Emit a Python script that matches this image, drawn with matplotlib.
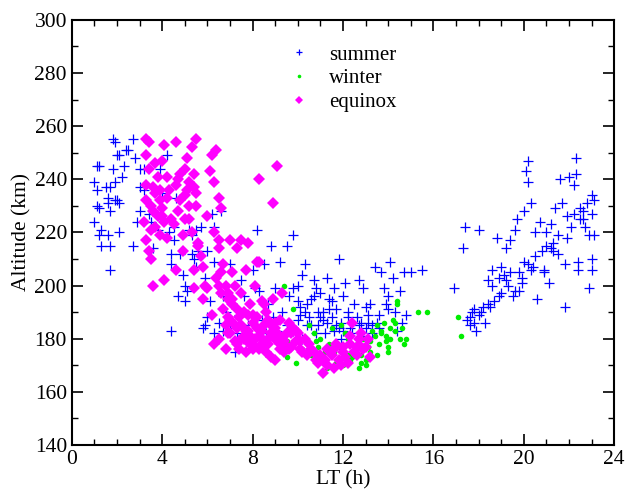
import matplotlib
matplotlib.use("Agg")
import matplotlib.pyplot as plt
from matplotlib.ticker import MultipleLocator

plt.rcParams['font.family'] = ['Liberation Serif', 'DejaVu Serif']

# summer (LT, altitude)
summer_lt = [1.0, 1.1, 1.1, 1.2, 1.0, 1.1, 1.2, 1.2, 1.3, 1.3, 1.5, 1.6, 1.6, 1.7, 1.7, 1.6, 1.7, 1.7,
             1.8, 1.8, 1.9, 1.9, 1.9, 2.0, 2.0, 2.1, 2.1, 2.1, 2.2, 2.3, 2.4, 2.5, 2.7, 2.7, 2.8, 2.9,
             3.0, 3.0, 3.0, 3.2, 3.2, 3.4, 3.5, 3.6, 3.8, 3.9, 3.9, 4.0, 4.2, 4.3, 4.4, 4.4, 4.4, 4.5,
             4.5, 4.6, 4.7, 4.8, 4.9, 5.0, 5.0, 5.1, 5.2, 5.3, 5.3, 5.4, 5.5, 5.5, 5.6, 5.7, 5.8, 5.9,
             5.9, 6.0, 6.0, 6.1, 6.2, 6.3, 6.3, 6.5, 6.6, 6.7, 6.8, 7.0, 7.1, 7.2, 7.3, 7.4, 7.5, 7.6,
             7.8, 8.0, 8.2, 8.3, 8.5, 8.7, 8.8, 9.0, 9.2, 9.3, 9.5, 9.6, 9.8, 9.8, 10.0, 10.1, 10.2,
             10.3, 10.3, 10.5, 10.6, 10.7, 10.8, 10.9, 11.0, 11.1, 11.2, 11.3, 11.3, 11.5, 11.6, 11.7,
             11.8, 11.8, 11.9, 12.0, 12.1, 12.2, 12.3, 12.5, 12.6, 12.7, 12.9, 13.0, 13.1, 13.2, 13.3,
             13.4, 13.6, 13.7, 13.8, 13.9, 14.0, 14.1, 14.2, 14.3, 14.5, 14.6, 14.7, 14.8, 15.0, 15.5,
             16.9, 17.3, 17.4, 17.5, 17.6, 17.7, 17.8, 17.9, 18.0, 18.0, 18.2, 18.3, 18.4, 18.5, 18.6,
             18.7, 18.8, 18.9, 19.0, 19.2, 19.3, 19.4, 19.5, 19.6, 19.7, 19.8, 19.9, 20.0, 20.0, 20.1,
             20.2, 20.2, 20.3, 20.4, 20.5, 20.6, 20.7, 20.8, 20.9, 21.0, 21.1, 21.2, 21.3, 21.4, 21.5,
             21.6, 21.7, 21.8, 21.8, 21.9, 22.0, 22.1, 22.2, 22.3, 22.3, 22.4, 22.4, 22.5, 22.6, 22.7,
             22.8, 22.9, 23.0, 23.0, 23.0, 23.0, 22.9, 23.1, 23.1,
             9.5, 9.8, 10.0, 10.4, 10.8, 11.0, 11.4, 11.7, 12.0, 12.4, 12.8, 13.0, 13.5, 6.3, 6.7, 7.0,
             7.7, 8.1, 8.4, 8.6, 8.9, 9.1, 9.4, 10.2, 10.6, 11.9, 12.9, 13.3,
             17.6, 17.8, 18.1, 18.4, 18.9, 19.1, 19.4, 19.6, 19.9, 20.2, 20.5, 20.9, 21.2, 21.5, 21.9,
             22.2, 22.6, 19.2, 19.8, 20.3, 21.0, 21.3, 22.5, 18.6, 19.0,
             10.1, 10.4, 10.9, 11.1, 11.4, 11.6, 12.2, 12.7, 13.1, 13.6, 14.0, 14.4, 10.0, 10.7, 11.5]
summer_alt = [239, 236, 245, 245, 224, 230, 229, 219, 221, 215, 237, 233, 231, 237, 228, 219, 215, 206,
              244, 255, 254, 239, 232, 249, 232, 249, 231, 220, 241, 245, 251, 251, 255, 215, 248, 224,
              244, 237, 228, 236, 244, 227, 224, 214, 221, 226, 244, 235, 249, 220, 183, 212, 208, 222,
              217, 233, 196, 212, 204, 200, 194, 198, 221, 219, 212, 210, 207, 221, 213, 222, 184, 185,
              203, 188, 213, 194, 227, 182, 209, 186, 228, 183, 190, 208, 193, 175, 182, 189, 202, 196,
              185, 206, 221, 198, 208, 193, 215, 199, 209, 190, 215, 196, 219, 199, 200, 192, 204,
              190, 208, 188, 195, 202, 199, 185, 197, 190, 182, 203, 186, 194, 199, 191,
              210, 184, 186, 196, 201, 188, 184, 193, 188, 202, 199, 192, 186, 193, 182,
              207, 189, 205, 199, 193, 196, 209, 203, 190, 198, 186, 205, 189, 205, 206,
              199, 214, 222, 187, 185, 190, 186, 183, 221, 189, 192, 186, 202, 192, 206,
              194, 218, 203, 207, 214, 200, 217, 196, 221, 225, 205, 201, 228, 209, 243,
              247, 239, 231, 207, 220, 195, 224, 213, 206, 220, 201, 223, 216, 229, 219,
              240, 231, 208, 192, 218, 241, 222, 238, 248, 242, 209, 206, 229, 228, 222,
              231, 219, 234, 227, 210, 206, 199, 232, 219,
              185, 183, 187, 185, 182, 188, 191, 185, 183, 182, 186, 184, 186, 222, 196, 184,
              179, 199, 187, 182, 188, 183, 179, 180, 185, 180, 181, 185,
              188, 191, 190, 193, 196, 204, 205, 198, 203, 208, 211, 205, 214, 212, 226,
              227, 225, 202, 198, 206, 215, 213, 225, 200, 197,
              189, 193, 190, 187, 195, 183, 190, 185, 189, 184, 191, 183, 194, 196, 188]

# winter
winter_lt = [9.4, 9.8, 9.5, 9.6, 9.9, 9.5, 10.5, 10.7, 10.8, 10.9, 11.0, 11.2, 11.2, 11.3, 11.4, 11.5,
             11.7, 11.9, 12.0, 12.1, 12.2, 12.3, 12.5, 12.7, 12.8, 12.9, 13.0, 13.1, 13.2, 13.3, 13.4,
             13.5, 13.6, 13.7, 13.8, 13.9, 14.0, 14.0, 14.1, 14.2, 14.3, 14.4, 14.4, 14.5, 14.6, 14.7,
             14.8, 15.3, 15.7, 17.1, 17.2, 12.6, 13.0, 13.5, 11.6, 12.2,
             10.2, 10.6, 11.0, 12.4, 12.9, 13.2, 13.7, 14.1, 14.3, 13.9, 11.8, 12.8]
winter_alt = [200, 191, 179, 177, 171, 173, 185, 182, 179, 177, 180, 175, 171, 169, 178, 184,
              171, 185, 170, 182, 174, 172, 176, 169, 174, 180, 172, 177, 175, 183, 181,
              185, 178, 182, 186, 181, 177, 175, 184, 187, 183, 194, 193, 180, 184, 178,
              180, 190, 190, 188, 181, 178, 170, 174, 175, 180,
              176, 174, 173, 173, 176, 179, 183, 180, 186, 179, 177, 171]

# equinox
equinox_lt = [3.3, 3.4, 3.3, 3.4, 3.3, 3.3, 3.2, 3.3, 3.4, 3.5, 3.5, 3.6, 3.6, 3.7, 3.7, 3.8, 3.8, 3.9,
              3.9, 4.0, 4.0, 4.1, 4.1, 4.2, 4.2, 4.1, 3.6, 4.3, 4.4, 4.6, 4.6, 4.6, 4.7, 4.8, 4.8, 4.9,
              4.9, 5.0, 5.0, 5.1, 5.1, 5.2, 5.2, 5.3, 5.3, 5.4, 5.5, 5.5, 5.4, 5.4, 5.5, 5.6, 5.7, 5.8,
              5.8, 5.9, 6.0, 6.1, 6.2, 6.3, 6.3, 6.4, 6.5, 6.5, 6.5, 6.5, 6.6, 6.6, 6.7, 6.4, 6.2, 6.3,
              6.5, 6.7, 6.8, 6.8, 6.9, 7.0, 7.0, 7.1, 7.2, 7.3, 7.3, 7.4, 7.4, 7.5, 7.5, 7.6, 7.7, 7.7,
              7.8, 7.9, 7.9, 8.0, 8.1, 8.1, 8.2, 8.3, 8.3, 8.4, 8.4, 8.5, 8.6, 8.7, 8.8, 8.9, 8.8, 8.9,
              9.0, 9.0, 9.1, 9.2, 9.2, 9.3, 9.4, 9.5, 9.6, 9.7, 9.8, 9.9, 10.0, 10.1, 10.2, 10.4, 10.5,
              10.7, 10.8, 10.9, 11.0, 11.1, 11.2, 11.3, 11.5, 11.6, 11.7, 11.8, 12.0, 12.2, 12.3, 12.4,
              12.5, 12.6, 12.7, 12.8, 12.9, 13.0, 13.2, 7.0, 7.2, 7.6, 8.2, 8.6, 6.0, 5.6, 6.8, 7.5,
              8.0, 9.5, 10.3, 11.3, 12.1,
              3.5, 3.7, 3.9, 4.0, 4.2, 4.5, 4.7, 5.0, 5.2, 5.4, 6.9, 7.1, 7.3, 7.6, 7.8, 8.0, 8.3, 8.5,
              8.7, 9.0, 9.3, 9.6, 6.6, 6.9, 7.2, 7.8, 8.2, 8.6, 9.1, 9.9, 10.6, 11.9, 12.6,
              7.4, 7.7, 8.0, 8.4, 8.8, 9.2, 9.7, 10.1, 6.9, 7.3, 7.9, 8.3, 8.7, 9.4, 12.3, 12.8, 13.1,
              11.6, 12.0, 7.1, 8.5, 9.0]
equinox_alt = [255, 254, 249, 244, 238, 232, 224, 217, 213, 210, 221, 228, 237, 235, 246, 241, 226, 219,
               232, 247, 229, 224, 253, 241, 218, 202, 200, 236, 225, 254, 238, 206, 228, 232, 242, 219,
               213, 225, 244, 236, 248, 239, 230, 252, 220, 242, 255, 235, 206, 199, 230, 215, 211, 195,
               207, 200, 226, 243, 249, 239, 220, 203, 214, 200, 233, 217, 229, 197, 208, 251, 189, 178,
               180, 191, 176, 185, 195, 182, 217, 205, 200, 214, 191, 188, 176, 217, 197, 181, 206, 175,
               216, 193, 178, 186, 180, 200, 209, 209, 240, 194, 183, 179, 175, 187, 182, 231, 173, 195,
               172, 180, 245, 178, 187, 197, 175, 182, 186, 177, 184, 179, 182, 176, 175, 174, 178,
               175, 172, 171, 174, 167, 172, 170, 174, 169, 178, 172, 175, 171, 178, 186,
               175, 174, 180, 182, 176, 177, 173, 187, 185, 190, 184, 190, 199, 216, 200, 185,
               178, 177, 180, 176, 173,
               230, 222, 236, 226, 233, 223, 240, 234, 225, 237, 188, 193, 184, 180, 183, 176, 181, 185,
               178, 184, 180, 176, 205, 197, 179, 189, 188, 178, 182, 183, 176, 170, 177,
               179, 183, 189, 178, 185, 176, 182, 179, 182, 178, 181, 176, 180, 179, 181, 177, 180,
               176, 177, 195, 193, 186]

fig = plt.figure(figsize=(6.3, 4.96), dpi=100)
ax = fig.add_axes([0.114, 0.103, 0.861, 0.857])

ax.plot(summer_lt, summer_alt, linestyle='none', marker='+', color='#0000ff',
        markersize=7, markeredgewidth=0.9, label='summer')
ax.plot(winter_lt, winter_alt, linestyle='none', marker='o', color='#00ee00',
        markersize=4, markeredgewidth=0, label='winter')
ax.plot(equinox_lt, equinox_alt, linestyle='none', marker='D', color='#ff00ff',
        markersize=6.3, markeredgewidth=0, label='equinox')

ax.set_xlim(0, 24)
ax.set_ylim(140, 300)
ax.xaxis.set_major_locator(MultipleLocator(4))
ax.xaxis.set_minor_locator(MultipleLocator(1))
ax.yaxis.set_major_locator(MultipleLocator(20))
ax.yaxis.set_minor_locator(MultipleLocator(10))
ax.tick_params(which='both', direction='in', top=True, right=True, labelsize=15.5)
ax.tick_params(which='major', length=8, width=1.2)
ax.tick_params(which='minor', length=4, width=1.0)
for s in ax.spines.values():
    s.set_linewidth(1.5)

ax.set_xlabel('LT (h)', fontsize=15.5, labelpad=1)
ax.set_ylabel('Altitude (km)', fontsize=15.5, labelpad=2)

ax.legend(loc='upper left', bbox_to_anchor=(0.372, 0.975), frameon=False, fontsize=15,
          handlelength=1.0, handletextpad=0.95, labelspacing=0.2, borderpad=0.2,
          markerscale=0.65)

fig.savefig('out.png', dpi=100)
